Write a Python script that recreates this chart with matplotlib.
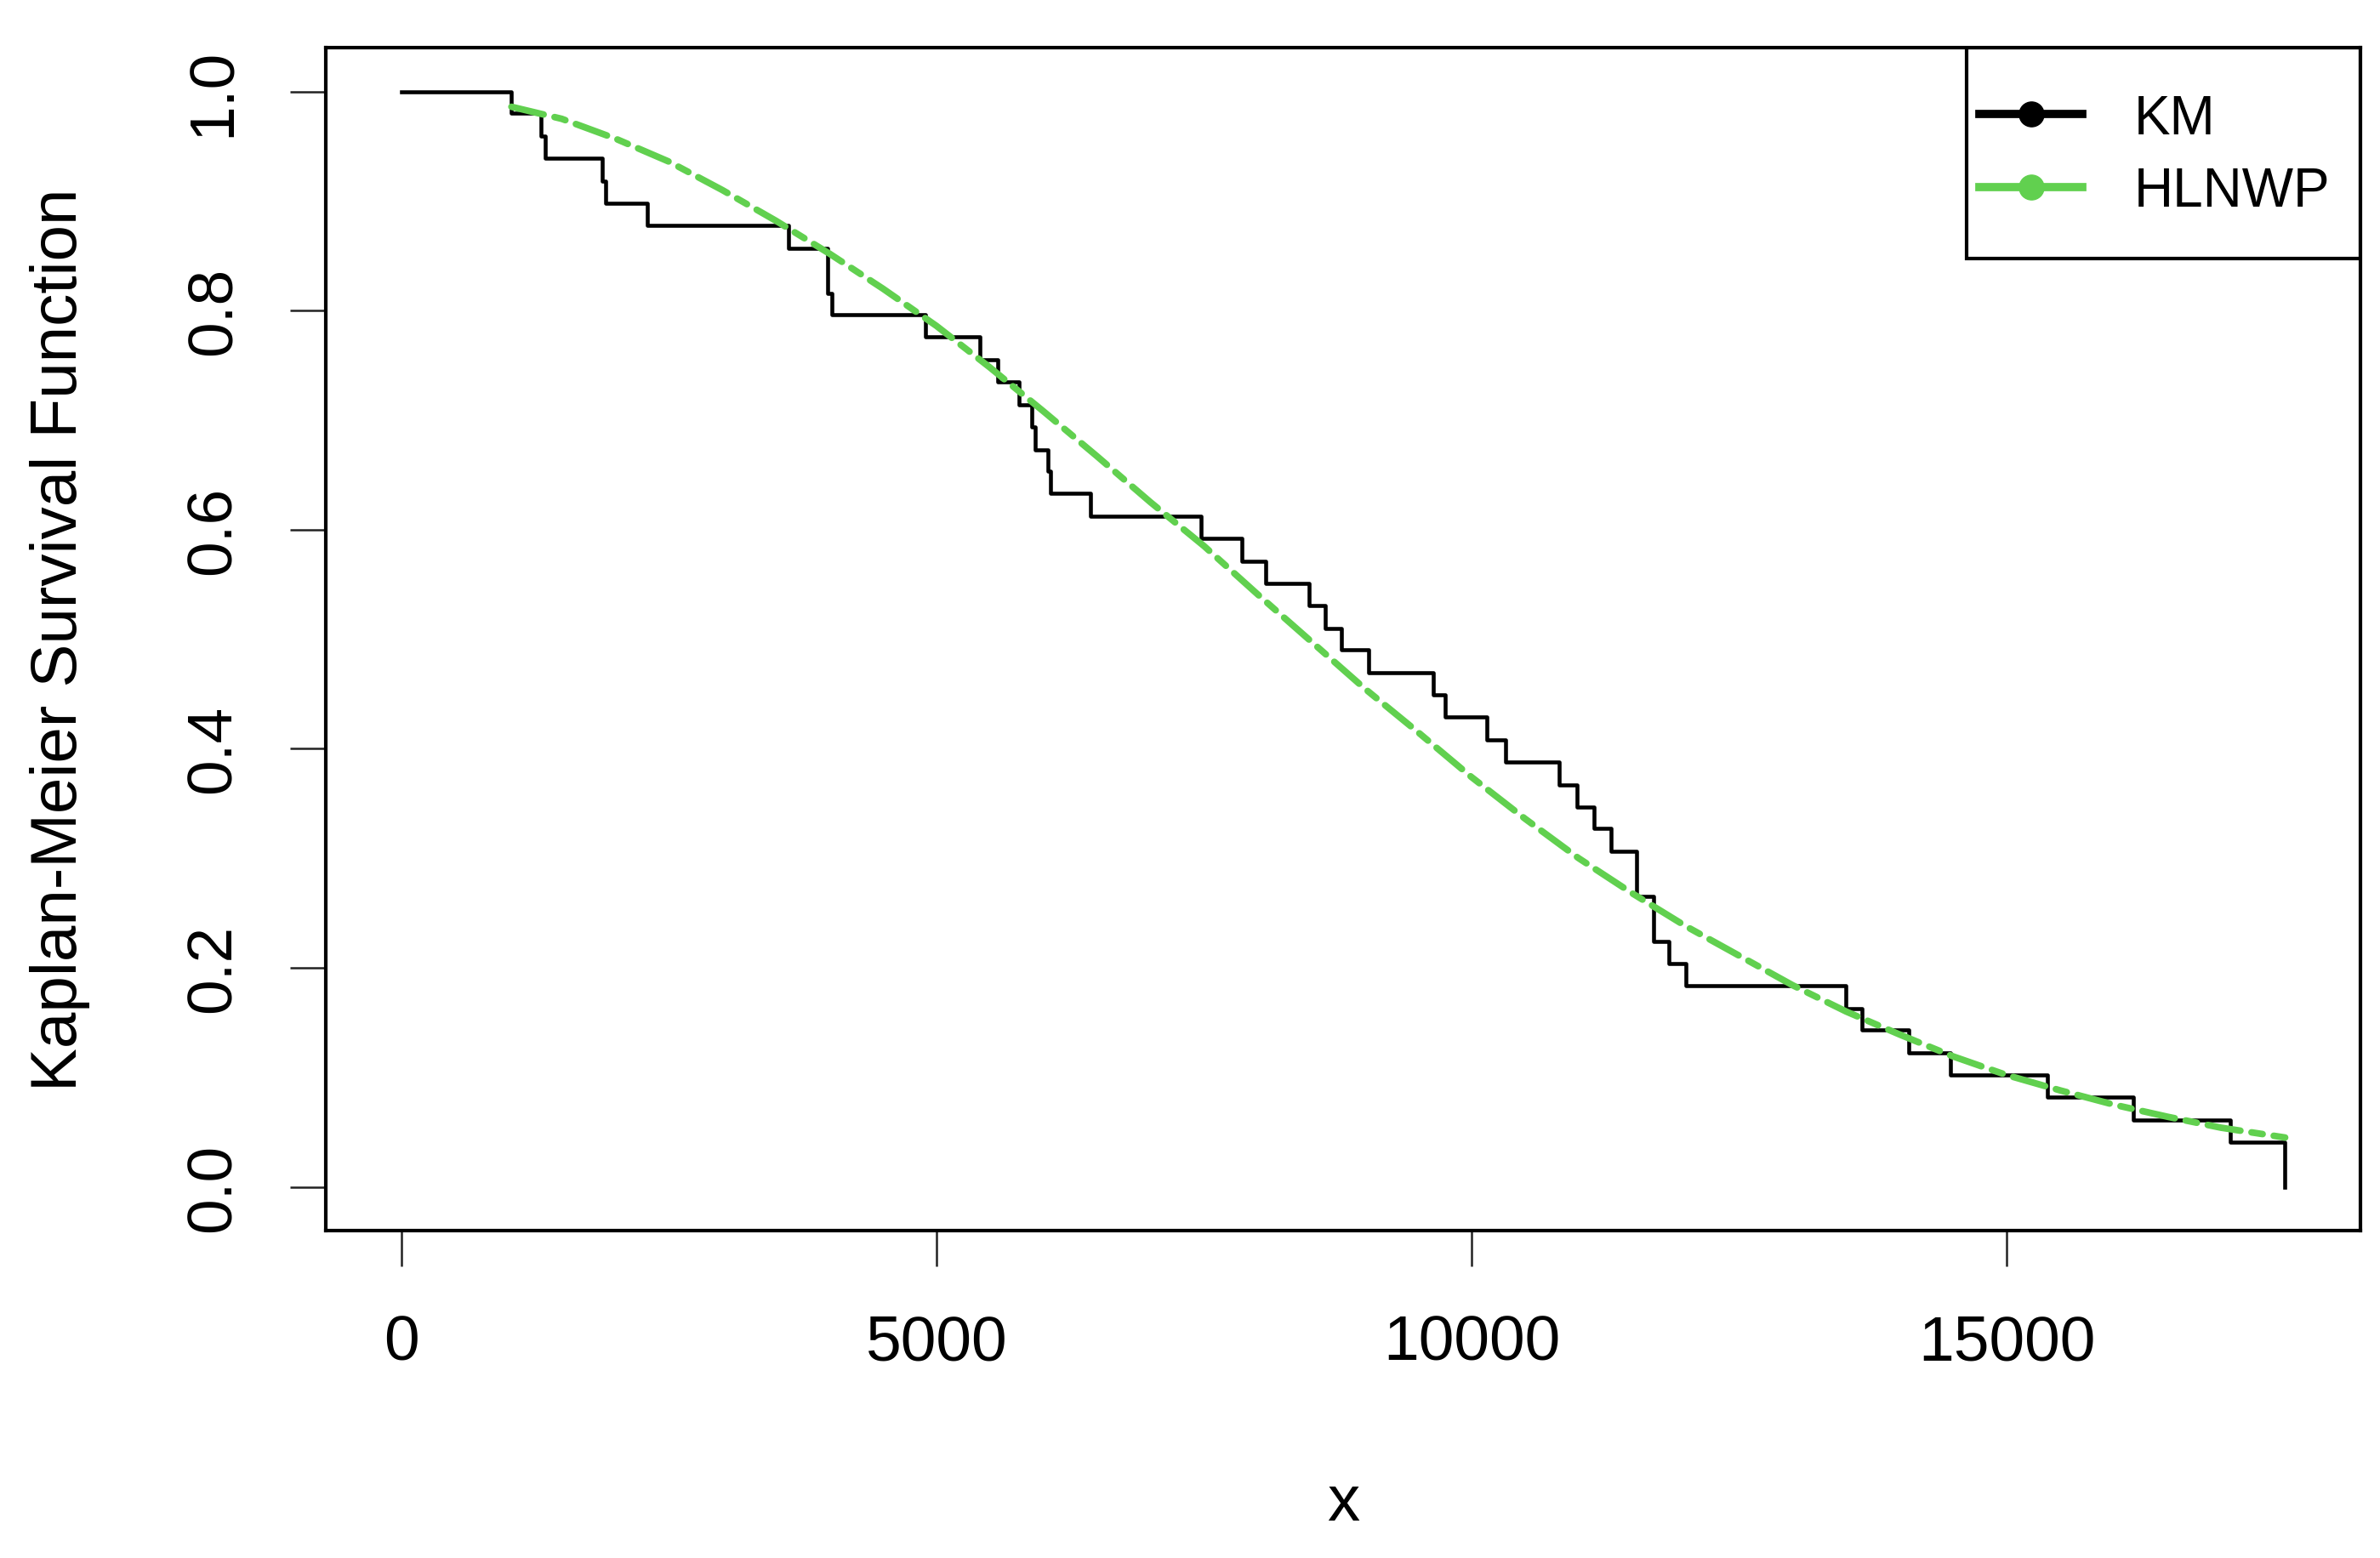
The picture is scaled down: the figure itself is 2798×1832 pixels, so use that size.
"""Kaplan-Meier curve against the fitted HLNWP survival function"""

import matplotlib
matplotlib.use("Agg")
import matplotlib.pyplot as plt
from matplotlib.patches import Rectangle
from matplotlib.lines import Line2D

plt.rcParams["font.family"] = ["Liberation Sans", "DejaVu Sans"]

# KM step function (time of drop, level after drop)
km_time = [0, 1030, 1305, 1345, 1876, 1908, 2300, 3615, 3985, 4020, 4900,
           5410, 5570, 5769, 5888, 5920, 6040, 6066, 6443, 7470, 7850,
           8080, 8480, 8634, 8785, 9037, 9640, 9753, 10143, 10320, 10818,
           10981, 11146, 11306, 11538, 11697, 11845, 12002, 13496, 13644,
           14084, 14477, 15379, 16180, 17091, 17600]
km_surv = [1.0, 0.980, 0.959, 0.939, 0.918, 0.898, 0.878, 0.857, 0.816,
           0.796, 0.776, 0.755, 0.735, 0.714, 0.694, 0.673, 0.653, 0.633,
           0.612, 0.592, 0.571, 0.551, 0.531, 0.510, 0.490, 0.469, 0.449,
           0.429, 0.408, 0.388, 0.367, 0.347, 0.327, 0.306, 0.265, 0.224,
           0.204, 0.184, 0.163, 0.143, 0.122, 0.102, 0.082, 0.061, 0.041,
           0.0]

# fitted HLNWP survival curve
fit_time = [1030, 1500, 2000, 2500, 3000, 3500, 4000, 4500, 5000, 5500,
            6000, 6500, 7000, 7500, 8000, 8500, 9000, 9500, 10000, 10500,
            11000, 11500, 12000, 12500, 13000, 13500, 14000, 14500, 15000,
            15500, 16000, 16500, 17000, 17600]
fit_surv = [0.986, 0.975, 0.957, 0.936, 0.910, 0.882, 0.852, 0.820, 0.786,
            0.748, 0.708, 0.667, 0.625, 0.585, 0.541, 0.498, 0.455, 0.415,
            0.374, 0.336, 0.300, 0.268, 0.238, 0.211, 0.184, 0.160, 0.139,
            0.119, 0.102, 0.088, 0.075, 0.064, 0.054, 0.045]

x_ticks = [0, 5000, 10000, 15000]
y_ticks = [0.0, 0.2, 0.4, 0.6, 0.8, 1.0]
labels = ["KM", "HLNWP"]

GREEN = "#61D04F"

fig = plt.figure(figsize=(27.98, 18.33), dpi=100)
ax = fig.add_axes([0.1369, 0.2100, 0.8549, 0.7589])

ax.step(km_time, km_surv, where="post", color="black", lw=3.3)
# R's "twodash" line type
ax.plot(fit_time, fit_surv, color=GREEN, lw=5.6, dash_capstyle="round",
        linestyle=(0, (5.0, 1.7, 1.7, 1.7)))

xmax = max(km_time)
ax.set_xlim(-0.04 * xmax, 1.04 * xmax)
ax.set_ylim(-0.04, 1.04)

ax.set_xticks(x_ticks)
ax.set_xticklabels([str(t) for t in x_ticks])
ax.set_yticks(y_ticks)
ax.set_yticklabels(["%.1f" % t for t in y_ticks], rotation=90, va="center")
ax.tick_params(axis="both", direction="out", length=30, width=1.8,
               labelsize=54, pad=40, color="#222222")

for sp in ax.spines.values():
    sp.set_linewidth(3)
    sp.set_color("black")

ax.set_xlabel("x", fontsize=55)
ax.set_ylabel("Kaplan-Meier Survival Function", fontsize=55)
ax.xaxis.set_label_coords(0.5, -0.205)
ax.yaxis.set_label_coords(-0.116, 0.5)

# legend box like R's legend(): frame drawn separately
box = Rectangle((0.8064, 0.822), 0.1936, 0.178, transform=ax.transAxes,
                fill=False, edgecolor="black", lw=3, zorder=5)
ax.add_patch(box)
handles = [Line2D([], [], color="black", lw=7, marker="o", markersize=21),
           Line2D([], [], color=GREEN, lw=7, marker="o", markersize=21)]
ax.legend(handles, labels, loc="center", bbox_to_anchor=(0.899, 0.909),
          frameon=False, fontsize=46, handlelength=1.9, handletextpad=0.95,
          labelspacing=0.4, borderpad=0.0, borderaxespad=0)

fig.savefig("out.png", dpi=100, facecolor="white")
